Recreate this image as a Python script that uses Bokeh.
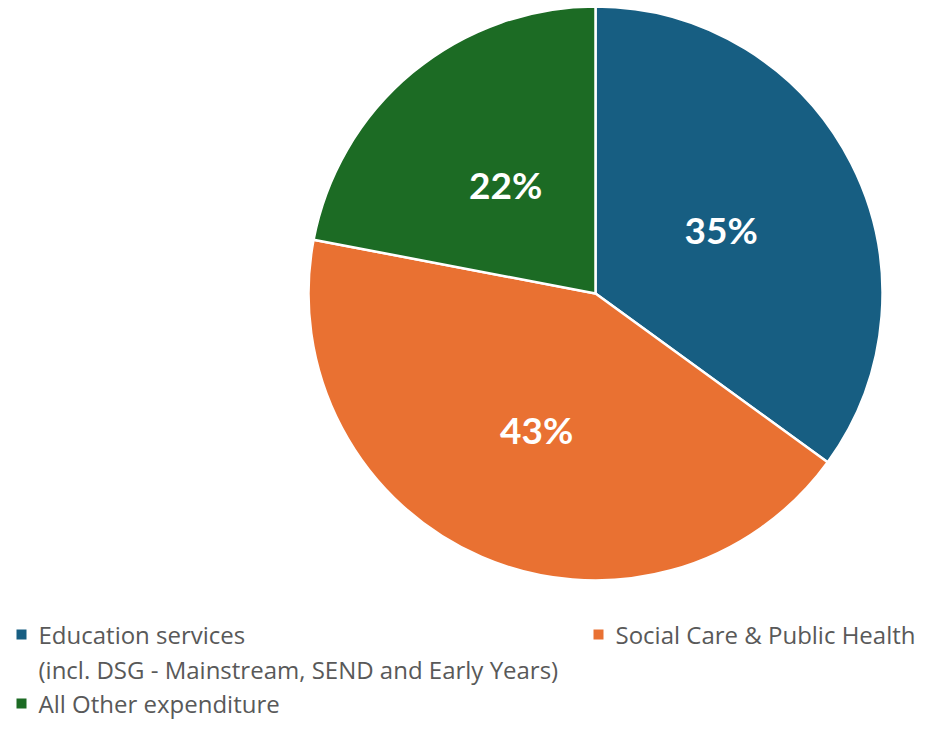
import numpy as np
from bokeh.plotting import figure
from bokeh.models import Range1d, ColumnDataSource
from bokeh.core.properties import value
from bokeh.embed import file_html
from bokeh.resources import INLINE

categories = ["Education services", "Social Care & Public Health", "All Other expenditure"]
shares = [35, 43, 22]
colors = ["#175E82", "#E97132", "#1C6B24"]
pct_labels = ["35%", "43%", "22%"]

legend_lines = [
    ["Education services", "(incl. DSG - Mainstream, SEND and Early Years)"],
    ["Social Care & Public Health"],
    ["All Other expenditure"],
]

W, H = 934, 720
p = figure(width=W, height=H, output_backend="svg", toolbar_location=None,
           x_range=Range1d(0, W), y_range=Range1d(0, H))
p.axis.visible = False
p.grid.visible = False
p.outline_line_color = None
p.min_border = 0
p.background_fill_color = "white"

cx, cy, r = 595, 427, 287
fr = np.array(shares, dtype=float) / sum(shares)
cum = np.concatenate([[0], np.cumsum(fr)])
start = np.pi / 2 - cum[:-1] * 2 * np.pi
end = np.pi / 2 - cum[1:] * 2 * np.pi
src = ColumnDataSource(dict(start=start, end=end, color=colors))
p.wedge(x=cx, y=cy, radius=r, start_angle="end", end_angle="start",
        fill_color="color", line_color="white", line_width=2.5, source=src)

mid = (start + end) / 2
lr = [141, 148, 141]
lx = [cx + lr[i] * np.cos(mid[i]) for i in range(3)]
ly = [cy + lr[i] * np.sin(mid[i]) for i in range(3)]
p.text(x=lx, y=ly, text=pct_labels, text_color="white", text_font=value("Lato"),
       text_font_style="bold", text_font_size="37px", text_align="center",
       text_baseline="middle")

# legend
pos = [(21, 86), (598, 86), (21, 17)]
for i, lines in enumerate(legend_lines):
    x0, y0 = pos[i]
    p.scatter([x0], [y0], marker="square", size=10, fill_color=colors[i], line_color=None)
    for j, t in enumerate(lines):
        p.text([x0 + 17], [y0 - j * 35], text=[t], text_color="#595959",
               text_font=value("Open Sans"), text_font_size="24px", text_baseline="middle")

open("out.html", "w").write(file_html(p, INLINE))
